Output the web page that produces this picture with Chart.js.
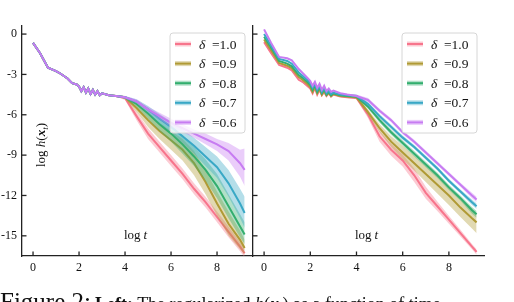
<!DOCTYPE html>
<html><head><meta charset="utf-8">
<script src="https://cdn.jsdelivr.net/npm/chart.js@4/dist/chart.umd.min.js"></script>
<style>
html,body{margin:0;padding:0;background:#fff;width:514px;height:302px;overflow:hidden;position:relative}
#c1{position:absolute;left:0;top:0;width:253px;height:302px}
#c2{position:absolute;left:240px;top:0;width:274px;height:302px}
#cap{position:absolute;left:0;top:289px;white-space:nowrap;font-family:"Liberation Serif",serif;color:#111;line-height:1}
</style></head><body>
<canvas id="c1" width="253" height="302"></canvas>
<canvas id="c2" width="274" height="302"></canvas>
<div id="cap"><span style="font-size:25px">Figure 2:</span> <span style="font-size:18px"><b>Left:</b> The regularized <i>h</i>(<b><i>x</i></b><sub style="font-size:12px"><i>t</i></sub>) as a function of time</span></div>
<script>
// ---------- data ----------
const deltaLabels = ['1.0', '0.9', '0.8', '0.7', '0.6'];
const xTicks = [0, 2, 4, 6, 8];
const yTicks = [-15, -12, -9, -6, -3, 0];
// log t sampling of the mean curves
const logT = [0,0.3,0.65,1.0,1.2,1.5,1.7,1.9,2.0,2.1,2.2,2.3,2.4,2.5,2.6,2.7,2.8,2.9,3.0,3.3,3.6,4.0,
              4.5,5.0,5.5,6.0,6.5,7.0,7.5,8.0,8.5,9.0,9.2];
// log t sampling of the shaded bands
const logTBand = [3.6,4.0,4.5,5.0,5.5,6.0,6.5,7.0,7.5,8.0,8.5,9.0,9.2];

// Left panel: mean log h(x_t)
const leftD10 = [-0.65,-1.4,-2.5,-2.75,-2.95,-3.3,-3.65,-3.75,-3.9,-4.25,-3.95,-4.35,-4.05,-4.45,-4.15,-4.5,-4.25,-4.55,-4.4,-4.55,-4.6,-4.75,
                 -6.1,-7.4,-8.4,-9.4,-10.4,-11.5,-12.5,-13.6,-14.7,-15.8,-16.3];
const leftD09 = [-0.65,-1.4,-2.5,-2.75,-2.95,-3.3,-3.65,-3.75,-3.9,-4.25,-3.95,-4.35,-4.05,-4.45,-4.15,-4.5,-4.25,-4.55,-4.4,-4.55,-4.6,-4.7,
                 -5.5,-6.4,-7.2,-7.9,-8.6,-9.6,-11.0,-12.6,-14.1,-15.3,-15.9];
const leftD08 = [-0.65,-1.4,-2.5,-2.75,-2.95,-3.3,-3.65,-3.75,-3.9,-4.25,-3.95,-4.35,-4.05,-4.45,-4.15,-4.5,-4.25,-4.55,-4.4,-4.55,-4.6,-4.7,
                 -5.2,-5.9,-6.7,-7.4,-8.2,-9.1,-10.1,-11.3,-12.8,-14.3,-14.9];
const leftD07 = [-0.65,-1.4,-2.5,-2.75,-2.95,-3.3,-3.65,-3.75,-3.9,-4.25,-3.95,-4.35,-4.05,-4.45,-4.15,-4.5,-4.25,-4.55,-4.4,-4.55,-4.6,-4.7,
                 -5.0,-5.6,-6.3,-6.9,-7.6,-8.3,-9.1,-9.9,-11.1,-12.6,-13.3];
const leftD06 = [-0.65,-1.4,-2.5,-2.75,-2.95,-3.3,-3.65,-3.75,-3.9,-4.25,-3.95,-4.35,-4.05,-4.45,-4.15,-4.5,-4.25,-4.55,-4.4,-4.55,-4.6,-4.7,
                 -5.0,-5.6,-6.1,-6.6,-7.0,-7.4,-7.8,-8.2,-8.7,-9.6,-10.1];
// Left panel: band upper / lower
const leftUp10 = [-4.55,-4.6,-5.8,-7.0,-8.0,-9.0,-10.0,-11.1,-12.1,-13.2,-14.3,-15.45,-15.95];
const leftLo10 = [-4.65,-4.9,-6.4,-7.8,-8.8,-9.8,-10.8,-11.9,-12.9,-14.0,-15.1,-16.15,-16.6];
const leftUp09 = [-4.55,-4.6,-5.2,-5.9,-6.6,-7.2,-7.8,-8.7,-10.1,-11.7,-13.2,-14.6,-15.3];
const leftLo09 = [-4.65,-4.8,-5.8,-6.9,-7.8,-8.6,-9.4,-10.5,-11.9,-13.5,-15.0,-16.0,-16.4];
const leftUp08 = [-4.55,-4.6,-5.0,-5.5,-6.2,-6.8,-7.5,-8.4,-9.3,-10.4,-11.9,-13.4,-14.0];
const leftLo08 = [-4.65,-4.8,-5.4,-6.3,-7.2,-8.0,-8.9,-9.8,-10.9,-12.2,-13.7,-15.1,-15.6];
const leftUp07 = [-4.55,-4.6,-4.85,-5.35,-5.95,-6.5,-7.1,-7.7,-8.4,-9.1,-10.1,-11.5,-12.1];
const leftLo07 = [-4.65,-4.8,-5.15,-5.85,-6.65,-7.3,-8.1,-8.9,-9.8,-10.7,-12.1,-13.7,-14.4];
const leftUp06 = [-4.55,-4.6,-4.85,-5.4,-5.85,-6.3,-6.7,-7.1,-7.4,-7.8,-8.1,-8.6,-8.5];
const leftLo06 = [-4.65,-4.8,-5.15,-5.8,-6.35,-6.9,-7.3,-7.7,-8.2,-8.7,-9.4,-10.6,-11.3];

// Right panel: mean log h(x_t)
const rightD10 = [-0.6,-1.4,-2.3,-2.5,-2.7,-3.4,-3.6,-3.9,-4.05,-4.4,-4.0,-4.5,-4.15,-4.55,-4.3,-4.6,-4.4,-4.65,-4.5,-4.65,-4.7,-4.75,
                  -6.0,-7.6,-8.6,-9.4,-10.5,-11.8,-12.8,-13.8,-14.8,-15.8,-16.2];
const rightD09 = [-0.4,-1.2,-2.15,-2.35,-2.55,-3.2,-3.45,-3.75,-3.95,-4.3,-3.9,-4.4,-4.05,-4.5,-4.2,-4.55,-4.35,-4.6,-4.45,-4.6,-4.65,-4.7,
                  -5.8,-7.0,-8.0,-8.8,-9.6,-10.4,-11.2,-12.0,-12.9,-13.7,-14.0];
const rightD08 = [-0.2,-1.0,-2.0,-2.2,-2.4,-3.05,-3.3,-3.6,-3.8,-4.15,-3.8,-4.3,-3.95,-4.4,-4.1,-4.5,-4.3,-4.55,-4.4,-4.55,-4.6,-4.65,
                  -5.4,-6.4,-7.3,-8.1,-8.9,-9.7,-10.5,-11.4,-12.2,-13.1,-13.4];
const rightD07 = [0.0,-0.85,-1.85,-2.0,-2.2,-2.85,-3.15,-3.45,-3.65,-4.0,-3.7,-4.15,-3.85,-4.3,-4.0,-4.4,-4.2,-4.45,-4.35,-4.5,-4.55,-4.6,
                  -5.2,-6.1,-6.9,-7.7,-8.4,-9.2,-10.0,-10.9,-11.7,-12.5,-12.8];
const rightD06 = [0.35,-0.65,-1.7,-1.8,-1.95,-2.6,-2.95,-3.3,-3.5,-3.85,-3.55,-4.0,-3.7,-4.15,-3.85,-4.25,-4.05,-4.3,-4.2,-4.4,-4.5,-4.6,
                  -4.9,-5.7,-6.4,-7.3,-8.0,-8.8,-9.6,-10.4,-11.2,-12.0,-12.3];
// Right panel: band upper / lower
const rightUp10 = [-4.65,-4.65,-5.75,-7.2,-8.15,-8.95,-10.0,-11.35,-12.45,-13.5,-14.55,-15.6,-16.0];
const rightLo10 = [-4.75,-4.85,-6.25,-8.0,-9.05,-9.85,-11.0,-12.25,-13.15,-14.1,-15.05,-16.0,-16.4];
const rightUp09 = [-4.6,-4.6,-5.6,-6.7,-7.6,-8.3,-9.05,-9.8,-10.55,-11.3,-12.2,-12.95,-13.3];
const rightLo09 = [-4.7,-4.8,-6.0,-7.3,-8.4,-9.3,-10.15,-11.0,-11.85,-12.7,-13.6,-14.45,-14.8];
const rightUp08 = [-4.55,-4.55,-5.25,-6.2,-7.1,-7.9,-8.7,-9.5,-10.3,-11.2,-12.0,-12.85,-13.15];
const rightLo08 = [-4.65,-4.75,-5.55,-6.6,-7.5,-8.3,-9.1,-9.9,-10.7,-11.6,-12.4,-13.35,-13.65];
const rightUp07 = [-4.5,-4.5,-5.05,-5.95,-6.75,-7.55,-8.25,-9.05,-9.85,-10.75,-11.55,-12.3,-12.6];
const rightLo07 = [-4.6,-4.7,-5.35,-6.25,-7.05,-7.85,-8.55,-9.35,-10.15,-11.05,-11.85,-12.7,-13.0];
const rightUp06 = [-4.45,-4.5,-4.75,-5.55,-6.25,-7.15,-7.85,-8.65,-9.45,-10.25,-11.05,-11.8,-12.1];
const rightLo06 = [-4.55,-4.7,-5.05,-5.85,-6.55,-7.45,-8.15,-8.95,-9.75,-10.55,-11.35,-12.2,-12.5];

// ---------- styling ----------
const colors = ['#f7758c', '#b09a35', '#33ae6e', '#39a8c6', '#c77cf2'];
function rgba(hex, a){const n=parseInt(hex.slice(1),16);return `rgba(${n>>16},${(n>>8)&255},${n&255},${a})`;}
const SERIF = '"Liberation Serif", "DejaVu Serif", serif';

function pts(xs, ys){ return xs.map((x,i)=>({x:x, y:ys[i]})); }

function buildDatasets(means, ups, los){
  const ds = [];
  for (let i=0;i<means.length;i++){
    const base = 100 - i*3;
    ds.push({label:'band'+i, data:pts(logTBand, ups[i]), borderWidth:0, pointRadius:0,
             backgroundColor:rgba(colors[i],0.38), fill:'+1', order:base, tension:0});
    ds.push({label:'bandlo'+i, data:pts(logTBand, los[i]), borderWidth:0, pointRadius:0,
             fill:false, order:base, tension:0});
    ds.push({label:'δ ='+deltaLabels[i], data:pts(logT, means[i]), borderColor:colors[i], borderWidth:2,
             pointRadius:0, fill:false, order:base-1, tension:0});
  }
  return ds;
}

const inward = {
  id:'inward',
  afterDraw(chart, args, o){
    const {ctx, chartArea:a, scales:{x, y}} = chart;
    ctx.save();
    ctx.strokeStyle = '#222'; ctx.lineWidth = 1.3;
    x.ticks.forEach(t=>{const p=x.getPixelForValue(t.value);ctx.beginPath();ctx.moveTo(p,a.bottom);ctx.lineTo(p,a.bottom-4.5);ctx.stroke();});
    y.ticks.forEach(t=>{const p=y.getPixelForValue(t.value);ctx.beginPath();ctx.moveTo(a.left,p);ctx.lineTo(a.left+4.5,p);ctx.stroke();});
    // x axis title "log t"
    ctx.fillStyle = '#111'; ctx.textBaseline = 'alphabetic';
    ctx.font = '13px ' + SERIF;
    const tx = o.xTitleX, ty = a.bottom - 17;
    ctx.fillText('log', tx, ty);
    const w1 = ctx.measureText('log').width;
    ctx.font = 'italic 13px ' + SERIF;
    ctx.fillText('t', tx + w1 + 3, ty);
    // y axis title
    if (o.yTitle){
      ctx.save();
      ctx.translate(a.left + 23, 167);
      ctx.rotate(-Math.PI/2);
      let cx = 0;
      const part = (txt, font, dy) => { ctx.font = font; ctx.fillText(txt, cx, dy||0); cx += ctx.measureText(txt).width; };
      part('log ', '13px ' + SERIF);
      part('h', 'italic 13px ' + SERIF);
      part('(', '13px ' + SERIF);
      part('x', 'italic bold 13px ' + SERIF);
      part('t', 'italic 9px ' + SERIF, 3);
      part(')', '13px ' + SERIF);
      ctx.restore();
    }
    // legend
    const bx = o.legX, by = 33, bw = 75, bh = 100;
    ctx.beginPath();
    ctx.roundRect(bx, by, bw, bh, 3);
    ctx.fillStyle = 'rgba(255,255,255,0.8)'; ctx.fill();
    ctx.strokeStyle = '#d6d6d6'; ctx.lineWidth = 1; ctx.stroke();
    chart.data.datasets.filter(d=>d.label.startsWith('δ')).forEach((d,i)=>{
      const ry = by + 11 + i*19.6;
      ctx.fillStyle = rgba(colors[i],0.38);
      ctx.fillRect(bx+5, ry-2.5, 16, 5);
      ctx.strokeStyle = colors[i]; ctx.lineWidth = 2;
      ctx.beginPath(); ctx.moveTo(bx+5, ry); ctx.lineTo(bx+21, ry); ctx.stroke();
      ctx.fillStyle = '#111';
      ctx.font = 'italic 13.5px ' + SERIF;
      ctx.fillText('δ', bx+29, ry+4.5);
      ctx.font = '13.5px ' + SERIF;
      ctx.fillText('=' + deltaLabels[i], bx+42, ry+4.5);
    });
    ctx.restore();
  }
};

function makeChart(id, means, ups, los, cfg){
  return new Chart(document.getElementById(id), {
    type:'line',
    data:{datasets:buildDatasets(means, ups, los)},
    options:{
      responsive:false, animation:false, devicePixelRatio:1,
      layout:{padding:{left:0, right:cfg.padRight, top:26, bottom:26}},
      plugins:{legend:{display:false}, tooltip:{enabled:false}, inward:cfg.inward},
      scales:{
        x:{type:'linear', min:-0.48, max:9.52,
           afterBuildTicks:s=>{s.ticks = xTicks.map(v=>({value:v}));},
           afterFit:s=>{s.height = 20;},
           grid:{display:false, drawTicks:false},
           border:{display:true, color:'#222', width:1.3},
           ticks:{color:'#111', padding:5, font:{family:SERIF, size:12}, maxRotation:0}},
        y:{type:'linear', min:-16.5, max:0.6,
           afterBuildTicks:s=>{s.ticks = yTicks.map(v=>({value:v}));},
           afterFit:s=>{s.width = cfg.yWidth;},
           grid:{display:false, drawTicks:false},
           border:{display:true, color:'#222', width:1.3},
           ticks:{display:cfg.yLabels, color:'#111', padding:5, font:{family:SERIF, size:12}}}
      }
    },
    plugins:[inward]
  });
}

makeChart('c1', [leftD10,leftD09,leftD08,leftD07,leftD06],
  [leftUp10,leftUp09,leftUp08,leftUp07,leftUp06],
  [leftLo10,leftLo09,leftLo08,leftLo07,leftLo06],
  {padRight:1, yWidth:22, yLabels:true, inward:{xTitleX:124, yTitle:true, legX:170}});
makeChart('c2', [rightD10,rightD09,rightD08,rightD07,rightD06],
  [rightUp10,rightUp09,rightUp08,rightUp07,rightUp06],
  [rightLo10,rightLo09,rightLo08,rightLo07,rightLo06],
  {padRight:30, yWidth:13, yLabels:false, inward:{xTitleX:115, yTitle:false, legX:162}});
</script>
</body></html>
